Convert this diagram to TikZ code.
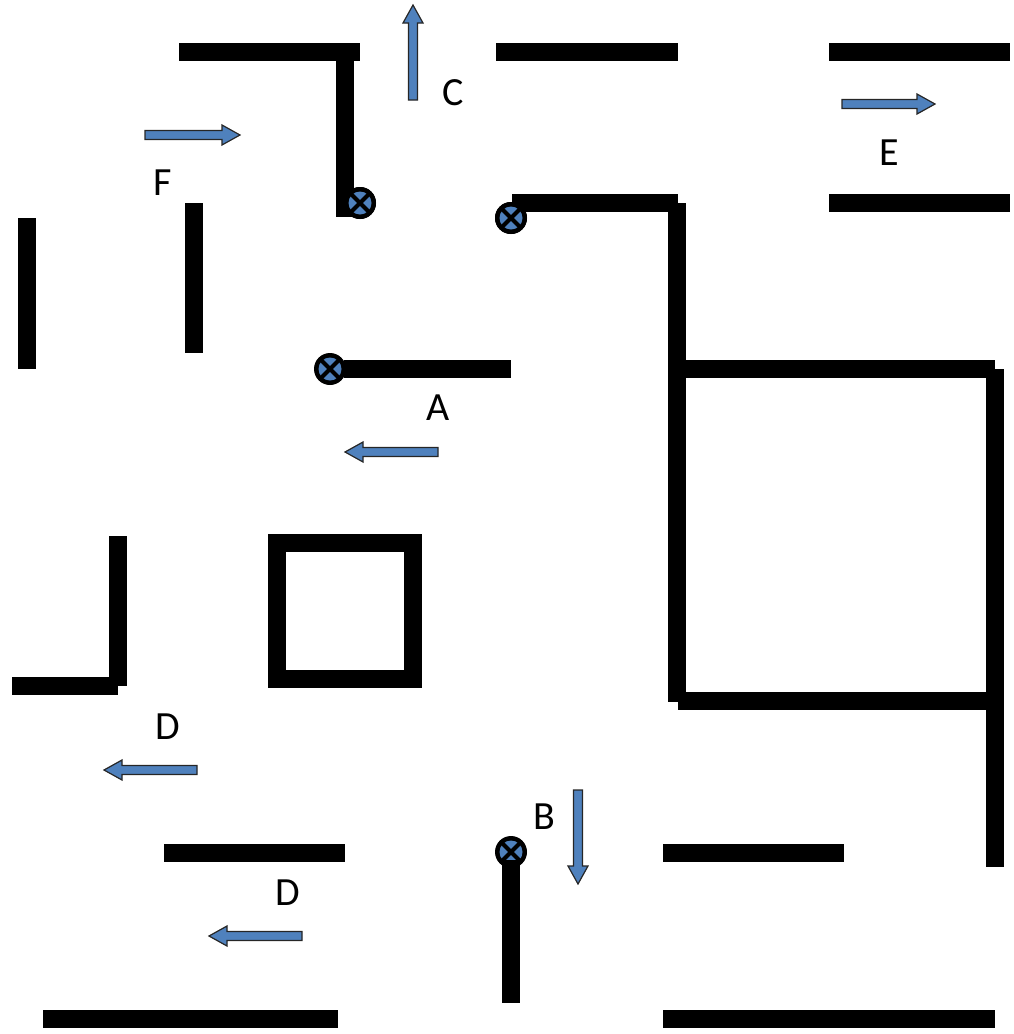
\documentclass[tikz,border=0pt]{standalone}
\usepackage{fontspec}
\setmainfont{Carlito}
\definecolor{arrblue}{HTML}{4F81BD}
\begin{document}
\begin{tikzpicture}[x=1pt,y=-1pt,
  wall/.style={line width=18pt,line cap=butt,black},
  lbl/.style={font=\fontsize{40}{40}\selectfont,inner sep=0pt},
  arr/.style={fill=arrblue,draw=black!85,line width=1.2pt,line join=miter},
  valve/.pic={
    \fill[black] (0,0) circle (16);
    \fill[arrblue] (0,0) circle (11.5);
    \draw[black,line width=4pt] (-9,-9) -- (9,9) (-9,9) -- (9,-9);
  }]
\useasboundingbox (0,0) rectangle (1013,1034);
\newcommand\blockarrow[4]{% x, y, angle, length
  \draw[arr,shift={(#1,#2)},rotate=#3] (0,4.5) -- (#4-18,4.5) -- (#4-18,10) -- (#4,0) -- (#4-18,-10) -- (#4-18,-4.5) -- (0,-4.5) -- cycle;}
% valves
\pic at (360,203) {valve};
\pic at (511,218) {valve};
\pic at (330,369) {valve};
\pic at (511,852) {valve};
% walls
\draw[wall] (179,52) -- (360,52);
\draw[wall] (345,52) -- (345,217);
\draw[wall] (496,52) -- (678,52);
\draw[wall] (829,52) -- (1010,52);
\draw[wall] (829,203) -- (1010,203);
\draw[wall] (512,203) -- (678,203);
\draw[wall] (677,203) -- (677,383);
\draw[wall] (677,383) -- (677,702);
\draw[wall] (677,369) -- (995,369);
\draw[wall] (995,369) -- (995,867);
\draw[wall] (678,701) -- (995,701);
\draw[wall] (344,369) -- (511,369);
\draw[wall] (27,218) -- (27,369);
\draw[wall] (194,203) -- (194,353);
\draw[wall] (118,536) -- (118,686);
\draw[wall] (12,686) -- (118,686);
\draw[wall] (277,543) rectangle (413,679);
\draw[wall] (164,853) -- (345,853);
\draw[wall] (511,860) -- (511,1003);
\draw[wall] (663,853) -- (844,853);
\draw[wall] (43,1019) -- (338,1019);
\draw[wall] (663,1019) -- (995,1019);
\pic at (360,203) {valve};
\pic at (511,218) {valve};
% arrows
\blockarrow{145}{135}{0}{95}
\blockarrow{413}{100}{90}{95}
\blockarrow{842}{104}{0}{93}
\blockarrow{438}{452}{180}{93}
\blockarrow{197}{770}{180}{93}
\blockarrow{302}{936}{180}{93}
\blockarrow{578}{790}{-90}{94}
% labels
\node[lbl] (c) at (453,93) {C};
\node[lbl] (f) at (163,183) {F};
\node[lbl] (e) at (889,153) {E};
\node[lbl] (a) at (438,408) {A};
\node[lbl] (d1) at (168,727) {D};
\node[lbl] (d2) at (288,893) {D};
\node[lbl] (b) at (544,817) {B};
\end{tikzpicture}
\end{document}
